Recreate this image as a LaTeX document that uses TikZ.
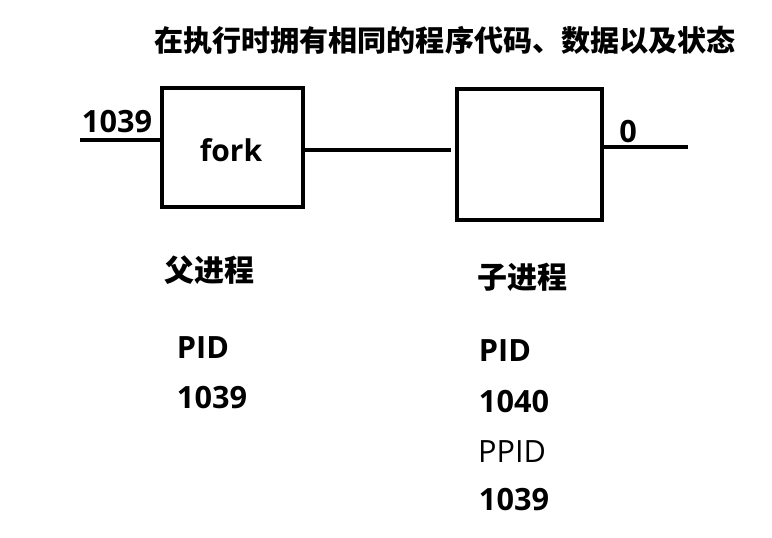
\documentclass[tikz,border=0pt]{standalone}
\usepackage{fontspec}
\setmainfont{Open Sans}
\newfontfamily\cjk{Noto Sans CJK SC}
\begin{document}
\begin{tikzpicture}[x=0.75pt,y=-0.75pt,
  wire/.style={line width=3pt},
  lbl/.style={font=\bfseries\fontsize{23}{27}\selectfont, inner sep=0pt, anchor=center},
  lblr/.style={font=\fontsize{23}{27}\selectfont, inner sep=0pt, anchor=center},
  cjklbl/.style={font=\cjk\bfseries\fontsize{22.5}{26}\selectfont, inner sep=0pt, anchor=center}]
\useasboundingbox (0,0) rectangle (772,538);
\fill[white] (0,0) rectangle (772,538);
\node[draw, line width=3pt, minimum width=105.75pt, minimum height=89.25pt, inner sep=0pt] (fork) at (232,147.5) {};
\node[font=\bfseries\fontsize{22.5}{26}\selectfont, inner sep=0pt] (forklbl) at (231,150) {fork};
\node[draw, line width=3pt, minimum width=108.75pt, minimum height=98.25pt, inner sep=0pt] (child) at (529.5,154.5) {};
\coordinate (inL) at (80,140);
\coordinate (midE) at (451,150);
\coordinate (outR) at (688,147);
\draw[wire] (inL) -- (inL -| fork.west);
\draw[wire] (fork.east |- midE) -- (midE);
\draw[wire] (child.east |- outR) -- (outR);
\node[lbl] (n1039) at (117,122) {1039};
\node[lbl] (zero) at (628,132) {0};
\node[cjklbl, font=\cjk\bfseries\fontsize{21.8}{26}\selectfont] (title) at (445,40) {在执行时拥有相同的程序代码、数据以及状态};
\node[cjklbl] (fu) at (209,270) {父进程};
\node[cjklbl] (zi) at (522,277) {子进程};
\node[lbl] (pid1) at (203,348) {PID};
\node[lbl] (v1) at (212,398) {1039};
\node[lbl] (pid2) at (505,351) {PID};
\node[lbl] (v2) at (514,402) {1040};
\node[lblr] (ppid) at (512,452) {PPID};
\node[lbl] (v3) at (514,500) {1039};
\end{tikzpicture}
\end{document}
